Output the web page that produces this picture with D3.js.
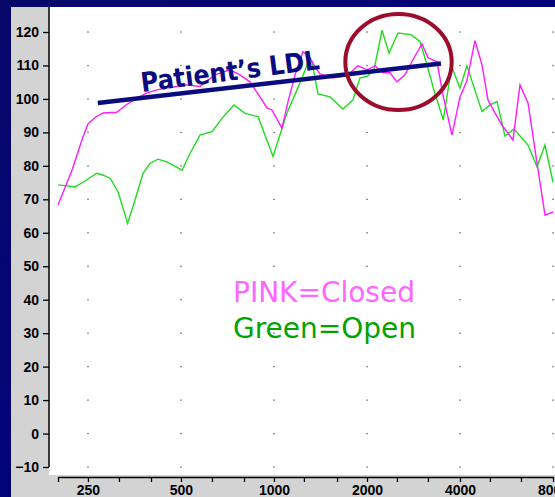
<!DOCTYPE html>
<html>
<head>
<meta charset="utf-8">
<script src="https://cdnjs.cloudflare.com/ajax/libs/d3/7.8.5/d3.min.js"></script>
<style>
  html, body { margin: 0; padding: 0; background: #05056e; }
  svg { display: block; }
</style>
</head>
<body>
<div id="chart"></div>
<script>
// frequency ticks (Hz) and level ticks
var labelFreqs = [250, 500, 1000, 2000, 4000, 8000];
var thirdOctaveFreqs = [200, 250, 315, 400, 500, 630, 800, 1000, 1250, 1600, 2000, 2500, 3150, 4000, 5000, 6300, 8000];
var levelTicks = [-10, 0, 10, 20, 30, 40, 50, 60, 70, 80, 90, 100, 110, 120];

// PINK = closed
var closedFreq = [200, 222, 239, 250, 265, 280, 310, 332, 352, 388, 418, 450, 485, 523, 576, 644, 720, 776, 836, 901, 949, 985, 1061, 1110, 1170, 1241, 1308, 1357, 1409, 1552, 1723, 1870, 2000, 2123, 2253, 2374, 2501, 2655, 2818, 3013, 3151, 3370, 3524, 3768, 4000, 4212, 4473, 4713, 4928, 5192, 5471, 5938, 6256, 6640, 7101, 7538, 8000];
var closedVal = [68.3, 78.7, 87.7, 92.5, 94.6, 95.8, 96.0, 98.2, 99.7, 101.8, 102.7, 103.3, 103.7, 104.2, 103.7, 107.2, 108.7, 107.2, 105.1, 100.6, 97.3, 96.7, 91.3, 99.1, 107.2, 114.1, 112.3, 109.6, 107.5, 106.3, 106.9, 109.9, 108.7, 109.9, 107.8, 107.8, 105.1, 107.2, 111.7, 116.5, 112.3, 111.1, 101.2, 89.2, 100.6, 105.4, 117.4, 110.2, 99.7, 95.8, 92.2, 87.7, 104.2, 98.8, 80.8, 65.3, 66.2];

// Green = open
var openFreq = [200, 214, 227, 241, 267, 280, 295, 313, 336, 355, 377, 397, 421, 450, 471, 504, 535, 576, 630, 679, 742, 806, 888, 993, 1102, 1214, 1289, 1328, 1388, 1518, 1672, 1802, 1898, 2000, 2107, 2237, 2357, 2520, 2776, 2969, 3128, 3271, 3532, 3760, 4000, 4212, 4713, 5003, 5271, 5594, 5983, 6640, 7101, 7538, 8000];
var openVal = [74.3, 74.0, 73.7, 75.1, 77.8, 77.2, 76.3, 72.2, 62.8, 69.8, 77.8, 80.7, 82.0, 81.2, 80.2, 78.7, 83.7, 89.2, 90.2, 94.2, 98.2, 95.7, 94.7, 82.8, 95.8, 104.8, 110.8, 111.1, 101.5, 100.6, 97.0, 99.7, 106.3, 106.7, 108.7, 120.5, 113.7, 119.7, 119.2, 117.2, 110.2, 103.6, 93.7, 109.7, 103.2, 109.9, 96.2, 98.2, 99.2, 88.9, 91.0, 86.2, 79.7, 86.2, 75.1];

// annotations: LDL line ends [Hz, dB], ring bounds
var ldlFreq = [269, 3472];
var ldlVal = [98.8, 110.6];
var ringFreq = [1702, 3760];
var ringVal = [96.7, 125.4];

var W = 555, H = 497;

var svg = d3.select("#chart").append("svg")
    .attr("width", W)
    .attr("height", H);

// slide background
var grad = svg.append("defs").append("linearGradient")
    .attr("id", "bg").attr("x1", 0).attr("y1", 0).attr("x2", 1).attr("y2", 1);
grad.append("stop").attr("offset", "0%").attr("stop-color", "#07076a");
grad.append("stop").attr("offset", "100%").attr("stop-color", "#000088");
svg.append("rect").attr("width", W).attr("height", H).attr("fill", "url(#bg)");

// grey chart panel and white plot area
svg.append("rect").attr("x", 11).attr("y", 7).attr("width", W - 11).attr("height", H - 7).attr("fill", "#d3d3d3");
svg.append("rect").attr("x", 49).attr("y", 7).attr("width", W - 49).attr("height", 468).attr("fill", "#ffffff");

var x = d3.scaleLog().domain([200, 8000]).range([58, 553]);
var y = d3.scaleLinear().domain([-10, 120]).range([467, 32]);

// dotted grid
var dots = [];
labelFreqs.forEach(function(f) {
    levelTicks.forEach(function(v) { dots.push([f, v]); });
});
svg.append("g").selectAll("rect")
    .data(dots)
    .enter().append("rect")
    .attr("x", function(d) { return x(d[0]) - 0.6; })
    .attr("y", function(d) { return y(d[1]) - 0.6; })
    .attr("width", 1.3).attr("height", 1.3)
    .attr("fill", "#555");

// y axis
var yAxis = d3.axisLeft(y)
    .tickValues(levelTicks)
    .tickSize(6)
    .tickPadding(4)
    .tickSizeOuter(0);
var gy = svg.append("g")
    .attr("transform", "translate(49,0)")
    .call(yAxis);
gy.select(".domain").remove();
gy.append("line").attr("x1", 0).attr("x2", 0).attr("y1", 7).attr("y2", 467)
    .attr("stroke", "#000").attr("stroke-width", 1.5);
gy.selectAll(".tick line").attr("stroke", "#000").attr("stroke-width", 1.3);
gy.selectAll(".tick text")
    .attr("fill", "#000")
    .style("font-family", "'Liberation Sans', Arial, sans-serif")
    .style("font-size", "14px")
    .style("font-weight", "bold");

// x axis, third-octave ticks, labels on octaves
var xAxis = d3.axisBottom(x)
    .tickValues(thirdOctaveFreqs)
    .tickSize(5)
    .tickPadding(3)
    .tickSizeOuter(0)
    .tickFormat(function(d) { return labelFreqs.indexOf(d) >= 0 ? d : ""; });
var gx = svg.append("g")
    .attr("transform", "translate(0,477)")
    .call(xAxis);
gx.select(".domain").attr("stroke", "#000").attr("stroke-width", 1.5);
gx.selectAll(".tick line").attr("stroke", "#000").attr("stroke-width", 1.3);
gx.selectAll(".tick text")
    .attr("fill", "#000")
    .style("font-family", "'Liberation Sans', Arial, sans-serif")
    .style("font-size", "14px")
    .style("font-weight", "bold");

// the two curves (window.closed is read-only, so don't name it that)
var line = d3.line()
    .x(function(d) { return x(d[0]); })
    .y(function(d) { return y(d[1]); });

var closedPts = closedFreq.map(function(f, i) { return [f, closedVal[i]]; });
var openPts = openFreq.map(function(f, i) { return [f, openVal[i]]; });

svg.append("path")
    .datum(openPts)
    .attr("d", line)
    .attr("fill", "none")
    .attr("stroke", "#1fdc1f")
    .attr("stroke-width", 1.4);

svg.append("path")
    .datum(closedPts)
    .attr("d", line)
    .attr("fill", "none")
    .attr("stroke", "#ff1aff")
    .attr("stroke-width", 1.4);

// LDL line and label
var lx1 = x(ldlFreq[0]), ly1 = y(ldlVal[0]);
var lx2 = x(ldlFreq[1]), ly2 = y(ldlVal[1]);
svg.append("line")
    .attr("x1", lx1).attr("y1", ly1)
    .attr("x2", lx2).attr("y2", ly2)
    .attr("stroke", "#0b0b80")
    .attr("stroke-width", 4.5);

var ang = Math.atan2(ly2 - ly1, lx2 - lx1) * 180 / Math.PI;
svg.append("text")
    .attr("transform", "translate(142,92) rotate(" + (ang - 0.8) + ") scale(1,1.12)")
    .attr("fill", "#0b0b80")
    .style("font-family", "'DejaVu Sans', Verdana, sans-serif")
    .style("font-size", "24px")
    .style("font-weight", "bold")
    .text("Patient\u2019s LDL");

// red ring
var rx0 = x(ringFreq[0]), rx1 = x(ringFreq[1]);
var ry0 = y(ringVal[1]), ry1 = y(ringVal[0]);
svg.append("ellipse")
    .attr("cx", (rx0 + rx1) / 2)
    .attr("cy", (ry0 + ry1) / 2)
    .attr("rx", (rx1 - rx0) / 2)
    .attr("ry", (ry1 - ry0) / 2)
    .attr("fill", "none")
    .attr("stroke", "#9c0c2c")
    .attr("stroke-width", 4);

// legend text
svg.append("text")
    .attr("x", 233).attr("y", 302)
    .attr("fill", "#ff66ff")
    .style("font-family", "'DejaVu Sans', Verdana, sans-serif")
    .style("font-size", "28px")
    .text("PINK=Closed");
svg.append("text")
    .attr("x", 233).attr("y", 338)
    .attr("fill", "#00a300")
    .style("font-family", "'DejaVu Sans', Verdana, sans-serif")
    .style("font-size", "28px")
    .text("Green=Open");
</script>
</body>
</html>
